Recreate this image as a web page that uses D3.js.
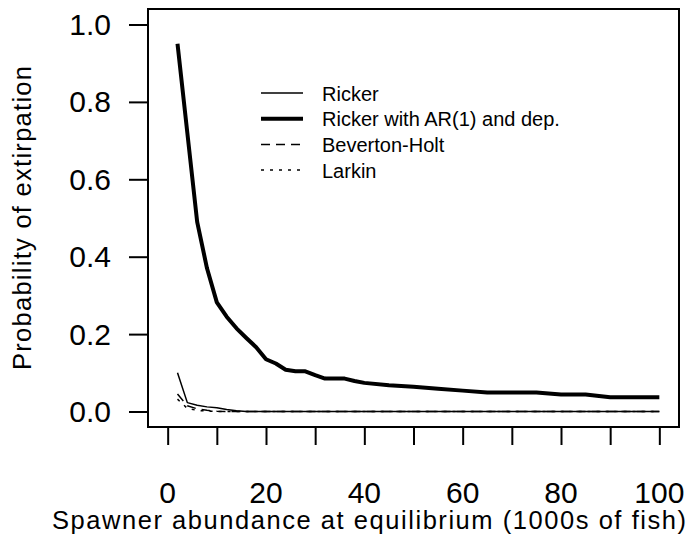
<!DOCTYPE html>
<html>
<head>
<meta charset="utf-8">
<script src="https://cdn.jsdelivr.net/npm/d3@7"></script>
<style>
    html, body { margin: 0; padding: 0; background: #fff; }
    svg { display: block; font-family: Arial, "Liberation Sans", sans-serif; }
</style>
</head>
<body>
<div id="chart"></div>
<script>
(function(){
    "use strict";

    // spawner abundance at equilibrium (1000s of fish)
    var abundance = [2, 4, 6, 8, 10, 12, 14, 16, 18, 20, 22, 24, 26, 28, 30, 32, 34, 36, 38, 40,
                     45, 50, 55, 60, 65, 70, 75, 80, 85, 90, 95, 100];

    var ricker = [0.100, 0.023, 0.016, 0.012, 0.010, 0.005, 0.002, 0, 0, 0, 0, 0, 0, 0, 0, 0, 0, 0, 0, 0,
                  0, 0, 0, 0, 0, 0, 0, 0, 0, 0, 0, 0];
    var rickerAR = [0.950, 0.720, 0.490, 0.370, 0.282, 0.245, 0.215, 0.190, 0.166, 0.135, 0.124, 0.108,
                    0.104, 0.104, 0.094, 0.085, 0.085, 0.085, 0.079, 0.074,
                    0.068, 0.064, 0.059, 0.054, 0.049, 0.049, 0.049, 0.044, 0.044, 0.037, 0.037, 0.037];
    var bevertonHolt = [0.045, 0.015, 0.007, 0.003, 0.001, 0, 0, 0, 0, 0, 0, 0, 0, 0, 0, 0, 0, 0, 0, 0,
                        0, 0, 0, 0, 0, 0, 0, 0, 0, 0, 0, 0];
    var larkin = [0.032, 0.008, 0.003, 0.001, 0, 0, 0, 0, 0, 0, 0, 0, 0, 0, 0, 0, 0, 0, 0, 0,
                  0, 0, 0, 0, 0, 0, 0, 0, 0, 0, 0, 0];

    var seriesNames = ["Ricker", "Ricker with AR(1) and dep.", "Beverton-Holt", "Larkin"];
    var xTicks = [0, 10, 20, 30, 40, 50, 60, 70, 80, 90, 100];
    var xLabels = [0, 20, 40, 60, 80, 100];
    var yTicks = [0, 0.2, 0.4, 0.6, 0.8, 1.0];

    var width = 690, height = 535;
    var box = { left: 148, right: 679, top: 9, bottom: 427 };

    // R style 4% padding on each side of the data range
    var padX = (box.right - box.left) * 0.04 / 1.08;
    var padY = (box.bottom - box.top) * 0.04 / 1.08;

    var x = d3.scaleLinear().domain([0, 100]).range([box.left + padX, box.right - padX]);
    var y = d3.scaleLinear().domain([0, 1]).range([box.bottom - padY, box.top + padY]);

    var svg = d3.select("#chart")
        .append("svg")
        .attr("width", width)
        .attr("height", height);

    var styles = [
        { data: ricker, width: 1.5, dash: null },
        { data: rickerAR, width: 4, dash: null },
        { data: bevertonHolt, width: 1.5, dash: "9,6" },
        { data: larkin, width: 1.5, dash: "3,6" }
    ];

    var line = d3.line()
        .x(function(d) { return x(d[0]); })
        .y(function(d) { return y(d[1]); });

    svg.selectAll("path.series")
        .data(styles)
        .enter()
        .append("path")
        .attr("class", "series")
        .attr("fill", "none")
        .attr("stroke", "#000")
        .attr("stroke-width", function(d) { return d.width; })
        .attr("stroke-dasharray", function(d) { return d.dash; })
        .attr("stroke-linejoin", "round")
        .attr("d", function(d) {
            return line(abundance.map(function(a, i) { return [a, d.data[i]]; }));
        });

    // plot box
    svg.append("rect")
        .attr("x", box.left)
        .attr("y", box.top)
        .attr("width", box.right - box.left)
        .attr("height", box.bottom - box.top)
        .attr("fill", "none")
        .attr("stroke", "#000")
        .attr("stroke-width", 2);

    // x axis
    var xAxis = svg.append("g")
        .attr("transform", "translate(0," + box.bottom + ")")
        .call(d3.axisBottom(x).tickValues(xTicks).tickSize(18).tickFormat(""));
    xAxis.select(".domain").remove();
    xAxis.selectAll("line").attr("stroke-width", 2);

    svg.selectAll("text.xlab")
        .data(xLabels)
        .enter()
        .append("text")
        .attr("class", "xlab")
        .attr("x", function(d) { return x(d); })
        .attr("y", 503)
        .attr("text-anchor", "middle")
        .style("font-size", "30px")
        .text(function(d) { return d; });

    // y axis
    var yAxis = svg.append("g")
        .attr("transform", "translate(" + box.left + ",0)")
        .call(d3.axisLeft(y).tickValues(yTicks).tickSize(19).tickFormat(""));
    yAxis.select(".domain").remove();
    yAxis.selectAll("line").attr("stroke-width", 2);

    svg.selectAll("text.ylab")
        .data(yTicks)
        .enter()
        .append("text")
        .attr("class", "ylab")
        .attr("x", 111)
        .attr("y", function(d) { return y(d) + 10.5; })
        .attr("text-anchor", "end")
        .style("font-size", "30px")
        .text(function(d) { return d3.format(".1f")(d); });

    // axis titles
    svg.append("text")
        .attr("x", 52)
        .attr("y", 529)
        .attr("textLength", 634)
        .attr("lengthAdjust", "spacing")
        .style("font-size", "25.5px")
        .text("Spawner abundance at equilibrium (1000s of fish)");

    svg.append("text")
        .attr("transform", "translate(31," + ((box.top + box.bottom) / 2) + ") rotate(-90)")
        .attr("text-anchor", "middle")
        .attr("textLength", 304)
        .attr("lengthAdjust", "spacing")
        .style("font-size", "25.5px")
        .text("Probability of extirpation");

    // legend
    var legend = svg.append("g")
        .selectAll("g")
        .data(styles)
        .enter()
        .append("g")
        .attr("transform", function(d, i) { return "translate(0," + (93 + i * 25.7) + ")"; });

    legend.append("line")
        .attr("x1", 261)
        .attr("x2", 303)
        .attr("stroke", "#000")
        .attr("stroke-width", function(d) { return d.width; })
        .attr("stroke-dasharray", function(d) { return d.dash; });

    legend.append("text")
        .attr("x", 322)
        .attr("y", 7.5)
        .style("font-size", "20px")
        .text(function(d, i) { return seriesNames[i]; });
})();
</script>
</body>
</html>
